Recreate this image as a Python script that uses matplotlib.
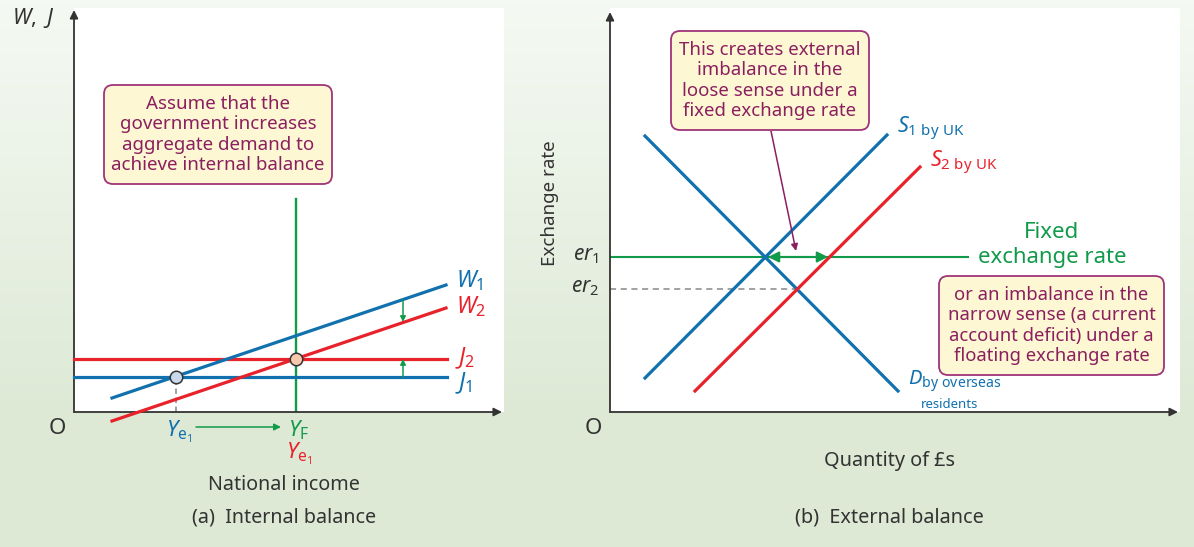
import numpy as np
import matplotlib
matplotlib.use('Agg')
import matplotlib.pyplot as plt
from matplotlib.patches import FancyBboxPatch
from matplotlib.colors import LinearSegmentedColormap

plt.rcParams['font.family'] = ['Noto Sans', 'DejaVu Sans']
plt.rcParams['mathtext.fontset'] = 'custom'
plt.rcParams['mathtext.rm'] = 'Noto Sans'
plt.rcParams['mathtext.it'] = 'Noto Sans:italic'

BG_TOP = '#f5f9f3'
BG = '#dde9d5'
BLUE = '#1071ae'
RED = '#e8222b'
GREEN = '#119a4a'
PURPLE = '#8b1f5f'
BOX_EDGE = '#a0347a'
BOX_FILL = '#fdf8d3'
DARK = '#333333'

# ---- panel (a): internal balance (units measured from the origin) ----
w_x = [38, 372]
w1_y = [14, 127]
w2_y = [-9, 104]
j_x = [0, 373]
j1_y = 35
j2_y = 53
yf_x = 222
yf_top = 213
ye1_x = 102
shift_x = 329
shift_w = [112, 90]     # W1 -> W2
shift_j = [35, 53]      # J1 -> J2

# ---- panel (b): external balance ----
d_x = [35, 288]
d_y = [276, 21]
s1_x = [35, 277]
s1_y = [34, 277]
s2_x = [85, 310]
s2_y = [21, 245]
er1 = 155
er2 = 123
fixed_end = 358
er2_end = 187
gap_x = [158, 218]   # S1/D crossing to S2 at er1

box_a_text = 'Assume that the\ngovernment increases\naggregate demand to\nachieve internal balance'
box_b1_text = 'This creates external\nimbalance in the\nloose sense under a\nfixed exchange rate'
box_b2_text = 'or an imbalance in the\nnarrow sense (a current\naccount deficit) under a\nfloating exchange rate'


def clean(ax):
    ax.set_xticks([])
    ax.set_yticks([])
    for s in ax.spines.values():
        s.set_visible(False)
    ax.set_facecolor('white')


def axis_arrows(ax, xend, yend):
    kw = dict(arrowstyle='-|>', color=DARK, lw=1.3, mutation_scale=12,
              shrinkA=0, shrinkB=0)
    ax.annotate('', xy=(0, yend), xytext=(0, 0), arrowprops=kw, annotation_clip=False)
    ax.annotate('', xy=(xend, 0), xytext=(0, 0), arrowprops=kw, annotation_clip=False)


def note_box(ax, x0, y0, w, h, text, fs):
    ax.add_patch(FancyBboxPatch((x0, y0), w, h,
                                boxstyle='round,pad=0,rounding_size=9',
                                fc=BOX_FILL, ec=BOX_EDGE, lw=1.3, zorder=5))
    ax.text(x0 + w / 2, y0 + h / 2, text, ha='center', va='center',
            fontsize=fs, color=PURPLE, linespacing=1.15, zorder=6)


fig = plt.figure(figsize=(11.94, 5.47), dpi=100, facecolor=BG)

# background: pale green fading down to the flat green
bg = fig.add_axes([0, 0, 1, 1], zorder=-1)
bg.axis('off')
shade = np.ones((547, 1))
shade[:420, 0] = np.linspace(0, 1, 420)
bg.imshow(shade, aspect='auto', extent=(0, 1, 0, 1),
          cmap=LinearSegmentedColormap.from_list('bg', [BG_TOP, BG]))

# ================= panel (a) =================
ax = fig.add_axes([74 / 1194, 135 / 547, 430 / 1194, 404 / 547])
clean(ax)
ax.set_xlim(0, 430)
ax.set_ylim(0, 404)
axis_arrows(ax, 428, 402)

ax.plot([yf_x, yf_x], [0, yf_top], color=GREEN, lw=1.7, zorder=2)
ax.plot(j_x, [j1_y, j1_y], color=BLUE, lw=2.3, zorder=3, clip_on=False)
ax.plot(j_x, [j2_y, j2_y], color=RED, lw=2.3, zorder=3, clip_on=False)
ax.plot(w_x, w1_y, color=BLUE, lw=2.3, zorder=3, clip_on=False)
ax.plot(w_x, w2_y, color=RED, lw=2.3, zorder=3, clip_on=False)
ax.plot([ye1_x, ye1_x], [0, j1_y], color='#999999', lw=1.3, ls=(0, (3, 2)), zorder=2)
ax.plot(ye1_x, j1_y, 'o', ms=9, mfc='#c9d8ea', mec=DARK, mew=1.1, zorder=4)
ax.plot(yf_x, j2_y, 'o', ms=9, mfc='#f7c8ab', mec=DARK, mew=1.1, zorder=4)

sk = dict(arrowstyle='-|>', color=GREEN, lw=1.1, mutation_scale=8, shrinkA=0, shrinkB=0)
ax.annotate('', xy=(shift_x, shift_w[1]), xytext=(shift_x, shift_w[0]), arrowprops=sk)
ax.annotate('', xy=(shift_x, shift_j[1]), xytext=(shift_x, shift_j[0]), arrowprops=sk)
ax.annotate('', xy=(207, -15), xytext=(122, -15), arrowprops=dict(sk, mutation_scale=10),
            annotation_clip=False)

ax.text(382, 131, '$W_1$', color=BLUE, fontsize=16.5, va='center', ha='left')
ax.text(382, 105, '$W_2$', color=RED, fontsize=16.5, va='center', ha='left')
ax.text(381, 54, '$J_2$', color=RED, fontsize=16.5, va='center', ha='left')
ax.text(381, 29, '$J_1$', color=BLUE, fontsize=16.5, va='center', ha='left')

ax.text(-41, 394, '$W,\\ J$', color=DARK, fontsize=15.5, ha='center', va='center')
ax.text(-17, -16, 'O', color=DARK, fontsize=16, ha='center', va='center')
ax.text(ye1_x + 3, -20, '$Y_{\\mathrm{e}_1}$', color=BLUE, fontsize=16, ha='center', va='center')
ax.text(yf_x + 3, -18, '$Y_{\\mathrm{F}}$', color=GREEN, fontsize=16, ha='center', va='center')
ax.text(yf_x + 3, -42, '$Y_{\\mathrm{e}_1}$', color=RED, fontsize=16, ha='center', va='center')
ax.text(210, -73, 'National income', color=DARK, fontsize=14.2, ha='center', va='center')
ax.text(210, -105, '(a)  Internal balance', color=DARK, fontsize=14.2, ha='center', va='center')

note_box(ax, 30, 228, 228, 99, box_a_text, 13.5)

# ================= panel (b) =================
bx = fig.add_axes([610 / 1194, 135 / 547, 570 / 1194, 404 / 547])
clean(bx)
bx.set_xlim(0, 570)
bx.set_ylim(0, 404)
axis_arrows(bx, 568, 400)

bx.plot([0, fixed_end], [er1, er1], color=GREEN, lw=1.5, zorder=2)
bx.plot([0, er2_end], [er2, er2], color='#888888', lw=1.1, ls=(0, (4, 3)), zorder=2)
bx.plot(d_x, d_y, color=BLUE, lw=2.3, zorder=3)
bx.plot(s1_x, s1_y, color=BLUE, lw=2.3, zorder=3)
bx.plot(s2_x, s2_y, color=RED, lw=2.3, zorder=3)

bx.annotate('', xy=(gap_x[1], er1), xytext=(gap_x[0], er1),
            arrowprops=dict(arrowstyle='<|-|>', color=GREEN, lw=1.5, mutation_scale=16,
                            shrinkA=0, shrinkB=0), zorder=4)
bx.annotate('', xy=(186, 161), xytext=(161, 281),
            arrowprops=dict(arrowstyle='-|>', color=PURPLE, lw=1.1, mutation_scale=10,
                            shrinkA=0, shrinkB=0), zorder=4)

bx.text(287, 283, '$S_{1\\ \\mathrm{by\\ UK}}$', color=BLUE, fontsize=15.5, ha='left', va='center')
bx.text(320, 249, '$S_{2\\ \\mathrm{by\\ UK}}$', color=RED, fontsize=15.5, ha='left', va='center')
bx.text(298, 31, '$D_{\\mathrm{by\\ overseas}}$', color=BLUE, fontsize=14.5, ha='left', va='center')
bx.text(340, 8, 'residents', color=BLUE, fontsize=9.5, ha='center', va='center')

bx.text(442, 180, 'Fixed', color=GREEN, fontsize=16, ha='center', va='center')
bx.text(442, 155, 'exchange rate', color=GREEN, fontsize=16, ha='center', va='center')

bx.text(-11, 157, '$er_1$', color=DARK, fontsize=15, ha='right', va='center')
bx.text(-11, 125, '$er_2$', color=DARK, fontsize=15, ha='right', va='center')
bx.text(-60, 209, 'Exchange rate', color=DARK, fontsize=13.5, ha='center', va='center',
        rotation=90)
bx.text(-17, -17, 'O', color=DARK, fontsize=16, ha='center', va='center')
bx.text(279, -49, 'Quantity of £s', color=DARK, fontsize=14.3, ha='center', va='center')
bx.text(279, -105, '(b)  External balance', color=DARK, fontsize=14.3, ha='center', va='center')

note_box(bx, 61, 282, 198, 99, box_b1_text, 13.4)
note_box(bx, 329, 37, 225, 99, box_b2_text, 13.3)

fig.savefig('out.png', dpi=100, facecolor=BG)
